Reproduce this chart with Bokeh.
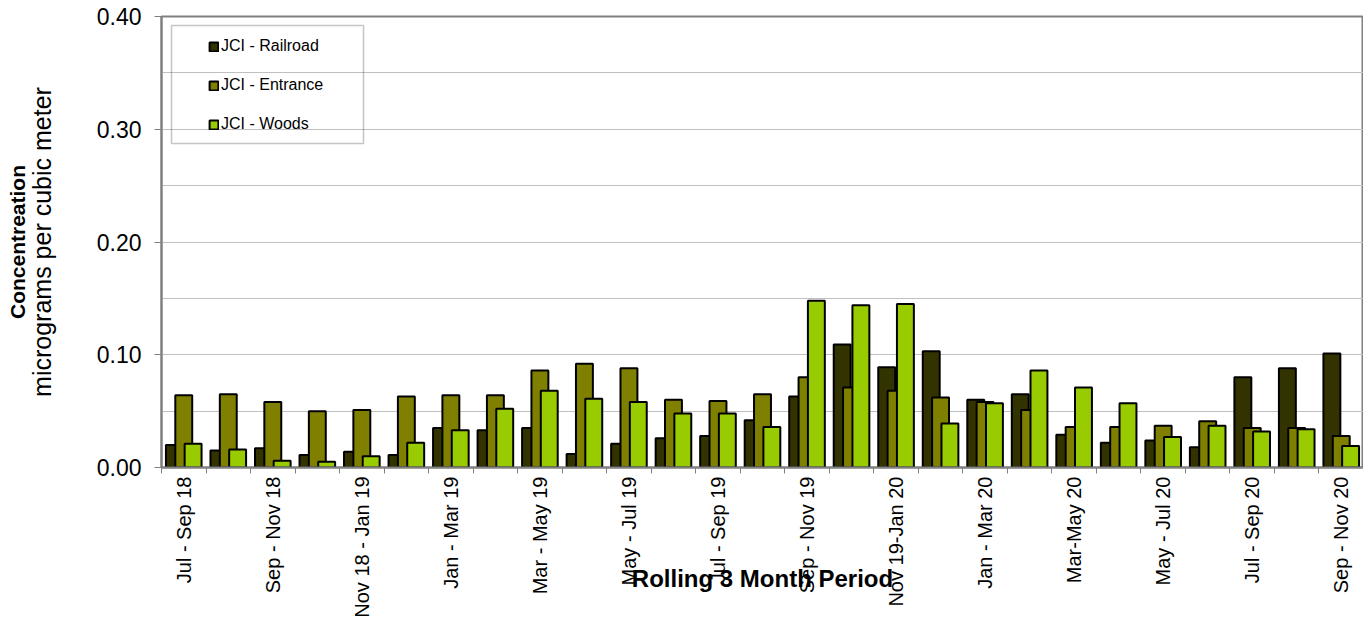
import math
from bokeh.plotting import figure
from bokeh.models import (ColumnDataSource, Range1d, FixedTicker, PrintfTickFormatter,
                          Legend, LegendItem, BoxAnnotation, Title)
from bokeh.transform import dodge
from bokeh.embed import file_html
from bokeh.resources import INLINE

categories = [
    "Jul - Sep 18", "Aug - Oct 18", "Sep - Nov 18", "Oct - Dec 18", "Nov 18 - Jan 19",
    "Dec 18 - Feb 19", "Jan - Mar 19", "Feb - Apr 19", "Mar - May 19", "Apr - Jun 19",
    "May - Jul 19", "Jun - Aug 19", "Jul - Sep 19", "Aug - Oct 19", "Sep - Nov 19",
    "Oct - Dec 19", "Nov 19-Jan 20", "Dec 19 - Feb 20", "Jan - Mar 20", "Feb - Apr 20",
    "Mar-May 20", "Apr - Jun 20", "May - Jul 20", "Jun - Aug 20", "Jul - Sep 20",
    "Aug - Oct 20", "Sep - Nov 20",
]
railroad = [0.020, 0.015, 0.017, 0.011, 0.014, 0.011, 0.035, 0.033, 0.035, 0.012,
            0.021, 0.026, 0.028, 0.042, 0.063, 0.109, 0.089, 0.103, 0.060, 0.065,
            0.029, 0.022, 0.024, 0.018, 0.080, 0.088, 0.101]
entrance = [0.064, 0.065, 0.058, 0.050, 0.051, 0.063, 0.064, 0.064, 0.086, 0.092,
            0.088, 0.060, 0.059, 0.065, 0.080, 0.071, 0.068, 0.062, 0.058, 0.051,
            0.036, 0.036, 0.037, 0.041, 0.035, 0.035, 0.028]
woods = [0.021, 0.016, 0.006, 0.005, 0.010, 0.022, 0.033, 0.052, 0.068, 0.061,
         0.058, 0.048, 0.048, 0.036, 0.148, 0.144, 0.145, 0.039, 0.057, 0.086,
         0.071, 0.057, 0.027, 0.037, 0.032, 0.034, 0.019]
series_names = ["JCI - Railroad", "JCI - Entrance", "JCI - Woods"]
y_ticks = [0.0, 0.1, 0.2, 0.3, 0.4]
y_minor_ticks = [0.05, 0.15, 0.25, 0.35]

FONT = "Liberation Sans"
n = len(categories)
pos = list(range(n))
source = ColumnDataSource(dict(pos=pos, cat=categories, railroad=railroad,
                               entrance=entrance, woods=woods))

p = figure(width=1363, height=625, output_backend="svg", toolbar_location=None,
           x_range=Range1d(-0.5, n - 0.5), y_range=Range1d(0, 0.40),
           min_border_left=161, min_border_right=0, min_border_top=16,
           min_border_bottom=158)
p.background_fill_color = "white"
p.border_fill_color = "white"
p.outline_line_color = "#808080"
p.outline_line_width = 2

cols = ["railroad", "entrance", "woods"]
colors = ["#333300", "#808000", "#99CC00"]
offsets = [-0.21, 0.0, 0.21]
renderers = []
for c, col, off in zip(cols, colors, offsets):
    r = p.vbar(x=dodge("pos", off, range=p.x_range), top=c, bottom=0, width=0.38,
               source=source, fill_color=col, line_color="black", line_width=2)
    renderers.append(r)

# x axis
xa = p.xaxis[0]
xa.ticker = FixedTicker(ticks=pos[::2], minor_ticks=[i - 0.5 for i in range(n + 1)])
xa.major_label_overrides = {i: categories[i] for i in pos[::2]}
xa.major_label_orientation = math.pi / 2
xa.major_tick_out = 0
xa.major_tick_in = 0
xa.minor_tick_out = 6
xa.minor_tick_in = 0
xa.minor_tick_line_color = "#808080"
xa.axis_line_color = "#808080"
xa.axis_line_width = 2
xa.major_label_text_font = FONT
xa.major_label_text_font_size = "20px"
xa.major_label_text_color = "black"
xa.major_label_standoff = 3
xa.axis_label = "Rolling 3 Month Period"
xa.axis_label_text_font = FONT
xa.axis_label_text_font_size = "24px"
xa.axis_label_text_font_style = "bold"
xa.axis_label_text_color = "black"
xa.axis_label_standoff = -56

# y axis
ya = p.yaxis[0]
ya.ticker = FixedTicker(ticks=y_ticks, minor_ticks=y_minor_ticks)
ya.formatter = PrintfTickFormatter(format="%.2f")
ya.major_tick_out = 7
ya.major_tick_in = 0
ya.minor_tick_out = 0
ya.minor_tick_in = 0
ya.major_tick_line_color = "#808080"
ya.axis_line_color = "#808080"
ya.axis_line_width = 2
ya.major_label_standoff = 13
ya.major_label_text_font = FONT
ya.major_label_text_font_size = "23px"
ya.major_label_text_color = "black"
ya.axis_label = "micrograms per cubic meter"
ya.axis_label_text_font = FONT
ya.axis_label_text_font_size = "25px"
ya.axis_label_text_font_style = "normal"
ya.axis_label_text_color = "black"
ya.axis_label_standoff = 38

p.add_layout(Title(text="Concentreation", align="center", text_font=FONT,
                   text_font_size="21px", text_font_style="bold",
                   text_color="black", standoff=-8), "left")

p.xgrid.visible = False
p.ygrid.ticker = ya.ticker
p.ygrid.grid_line_color = "#c0c0c0"
p.ygrid.grid_line_width = 1
p.ygrid.minor_grid_line_color = "#c0c0c0"
p.ygrid.minor_grid_line_width = 1

legend = Legend(items=[LegendItem(label=nm, renderers=[r]) for nm, r in zip(series_names, renderers)],
                location=(47, 333), padding=0, margin=0, spacing=19, label_height=20,
                glyph_width=11, glyph_height=11, label_standoff=2,
                label_text_font=FONT, label_text_font_size="16px",
                label_text_color="black",
                background_fill_alpha=0, border_line_alpha=0)
p.add_layout(legend)

p.add_layout(BoxAnnotation(left=171, right=363, top=25, bottom=143,
                           left_units="canvas", right_units="canvas",
                           top_units="canvas", bottom_units="canvas",
                           fill_alpha=0, line_color="#404040", line_width=1.5))

open("out.html", "w").write(file_html(p, INLINE))
